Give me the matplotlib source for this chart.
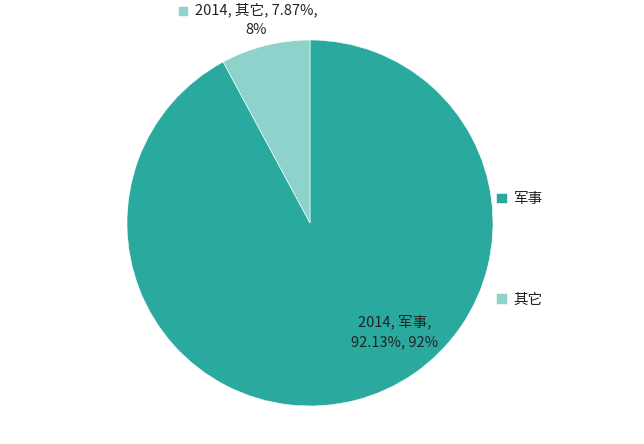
import matplotlib.pyplot as plt
from matplotlib.patches import Rectangle

plt.rcParams['font.family'] = ['Noto Sans CJK SC', 'DejaVu Sans']

# data
categories = ['军事', '其它']
shares = [92.13, 7.87]
year = '2014'
colors = ['#2aa99f', '#8dd3cb']

W, H = 644, 444
fig = plt.figure(figsize=(W / 100, H / 100), dpi=100)
fig.patch.set_facecolor('white')

# pie box in pixels: left 127, top 40, size 366
ax = fig.add_axes([127 / W, (H - 406) / H, 366 / W, 366 / H])
wedges, _ = ax.pie(shares, colors=colors, startangle=90, counterclock=False,
                   radius=1, wedgeprops=dict(edgecolor='white', linewidth=0.4))
ax.set_xlim(-1, 1)
ax.set_ylim(-1, 1)
ax.set_aspect('equal')
ax.axis('off')

fs = 10.5
txt = '#222222'

# data labels
lab0 = f'{year}, {categories[0]},\n{shares[0]:.2f}%, {round(shares[0]):.0f}%'
fig.text(395 / W, 1 - 332 / H, lab0, ha='center', va='center', fontsize=fs,
         color=txt, linespacing=1.5)
lab1 = f'{year}, {categories[1]}, {shares[1]:.2f}%,\n{round(shares[1]):.0f}%'
fig.text(256 / W, 1 - 20 / H, lab1, ha='center', va='center', fontsize=fs,
         color=txt, linespacing=1.5)
fig.patches.append(Rectangle((179 / W, 1 - 15 / H), 8 / W, 8 / H,
                             transform=fig.transFigure, color=colors[1]))

# legend
leg = fig.legend(wedges, categories, loc='upper left',
                 bbox_to_anchor=(483 / W, 1 - 179 / H), frameon=False,
                 fontsize=fs, handlelength=0.75, handleheight=0.75,
                 handletextpad=0.45, labelspacing=5.95)
for t in leg.get_texts():
    t.set_color(txt)

fig.savefig('out.png', dpi=100)
